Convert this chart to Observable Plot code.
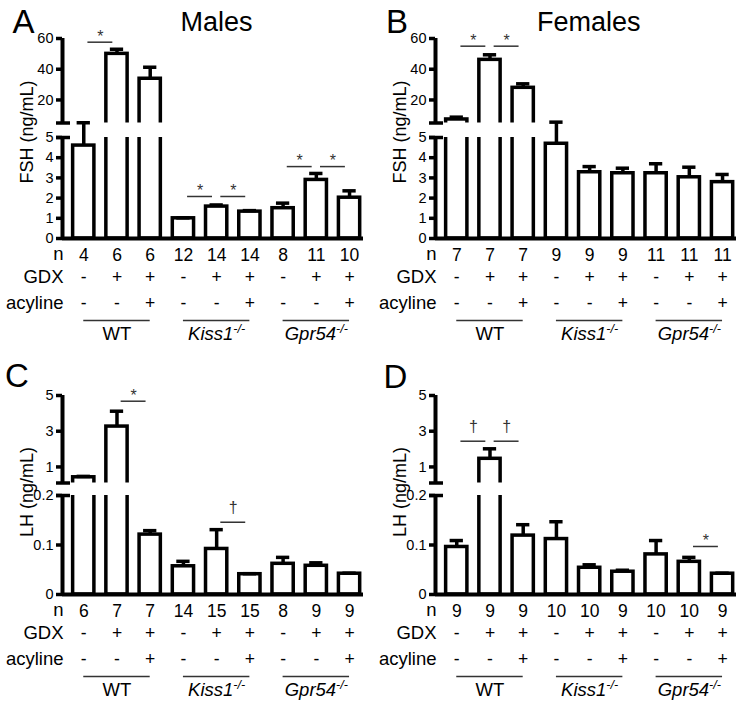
<!DOCTYPE html>
<html>
<head>
<meta charset="utf-8">
<script src="https://cdn.jsdelivr.net/npm/d3@7"></script>
<script src="https://cdn.jsdelivr.net/npm/@observablehq/plot@0.6"></script>
<style>
html,body{margin:0;padding:0;background:#fff;}
#root{position:relative;width:746px;height:707px;overflow:hidden;font-family:"Liberation Sans",Arial,Helvetica,sans-serif;color:#000;}
#root > *{position:absolute;}
.letter{font-size:33px;line-height:33px;white-space:nowrap;}
.title{font-size:27px;line-height:27px;text-align:center;width:200px;white-space:nowrap;}
.ylab{font-size:18px;line-height:20px;height:20px;width:160px;text-align:center;transform:rotate(-90deg);white-space:nowrap;}
</style>
</head>
<body>
<div id="root"></div>
<script>
// ---------- shared categories ----------
const genotype = ["WT","WT","WT","Kiss1-/-","Kiss1-/-","Kiss1-/-","Gpr54-/-","Gpr54-/-","Gpr54-/-"];
const gdx      = ["-","+","+","-","+","+","-","+","+"];
const acyline  = ["-","-","+","-","-","+","-","-","+"];
const rowLabels = ["n","GDX","acyline"];

// ---------- A: FSH, males ----------
const fshMaleMean = [4.6, 50.0, 33.8, 1.0, 1.58, 1.33, 1.5, 2.9, 2.02];
const fshMaleSem  = [1.13, 3.0, 7.5, 0.02, 0.08, 0.05, 0.25, 0.32, 0.34];
const fshMaleN    = [4, 6, 6, 12, 14, 14, 8, 11, 10];
const fshMaleSig  = [
  {a:1, b:2, y:57.6, label:"*"},
  {a:4, b:5, y:2.08, label:"*"}, {a:5, b:6, y:2.08, label:"*"},
  {a:7, b:8, y:3.56, label:"*"}, {a:8, b:9, y:3.56, label:"*"}
];

// ---------- B: FSH, females ----------
const fshFemaleMean = [7.3, 46.1, 27.9, 4.69, 3.28, 3.23, 3.23, 3.03, 2.79];
const fshFemaleSem  = [1.5, 3.3, 2.6, 1.07, 0.28, 0.25, 0.47, 0.5, 0.38];
const fshFemaleN    = [7, 7, 7, 9, 9, 9, 11, 11, 11];
const fshFemaleSig  = [{a:1, b:2, y:55, label:"*"}, {a:2, b:3, y:55, label:"*"}];

// ---------- C: LH, males ----------
const lhMaleMean = [0.42, 3.26, 0.121, 0.057, 0.092, 0.041, 0.062, 0.058, 0.042];
const lhMaleSem  = [0.05, 0.86, 0.008, 0.01, 0.039, 0.001, 0.013, 0.006, 0.001];
const lhMaleN    = [6, 7, 7, 14, 15, 15, 8, 9, 9];
const lhMaleSig  = [{a:2, b:3, y:4.68, label:"*"}, {a:5, b:6, y:0.146, label:"†"}];

// ---------- D: LH, females ----------
const lhFemaleMean = [0.096, 1.455, 0.119, 0.112, 0.054, 0.046, 0.081, 0.066, 0.042];
const lhFemaleSem  = [0.013, 0.56, 0.022, 0.035, 0.006, 0.003, 0.028, 0.009, 0.001];
const lhFemaleN    = [9, 9, 9, 10, 10, 9, 10, 10, 9];
const lhFemaleSig  = [{a:1, b:2, y:2.44, label:"†"}, {a:2, b:3, y:2.44, label:"†"}, {a:8, b:9, y:0.097, label:"*"}];

// ---------- layout / style ----------
const FONT = '"Liberation Sans", Arial, Helvetica, sans-serif';
const X_DOMAIN = [0.36, 9.42];
const BAR_HALF = 0.32, CAP_HALF = 0.2, SIG_HALF = 0.375;
const PANEL_W = 373, M_LEFT = 62, M_RIGHT = 10, M_TOP = 20, M_BOT_LOWER = 112, M_BOT_UPPER = 6;
const BAR_SW = 3.5, AXIS_SW = 4, SIG_COLOR = "#333";
const TICK_FS = 14.5, VAL_FS = 17.5, ROW_FS = 18.5, GROUP_FS = 18.5;

const root = document.getElementById("root");

function svgStyle() {
  return {background: "transparent", overflow: "visible", fontFamily: FONT, fontSize: TICK_FS + "px", color: "black"};
}

function errorMarks(rs) {
  return [
    Plot.ruleX(rs, {x: "pos", y1: "v", y2: d => d.v + d.e, strokeWidth: BAR_SW}),
    Plot.ruleY(rs, {x1: d => d.pos - CAP_HALF, x2: d => d.pos + CAP_HALF, y: d => d.v + d.e, strokeWidth: BAR_SW})
  ];
}

function sigMarks(ss) {
  return [
    Plot.ruleY(ss, {x1: d => (d.a + d.b) / 2 - SIG_HALF, x2: d => (d.a + d.b) / 2 + SIG_HALF, y: "y", stroke: SIG_COLOR, strokeWidth: 1.5}),
    Plot.text(ss.filter(d => d.label === "*"), {x: d => (d.a + d.b) / 2, y: "y", text: "label", dy: -5.8, fontSize: 16, fill: SIG_COLOR}),
    Plot.text(ss.filter(d => d.label !== "*"), {x: d => (d.a + d.b) / 2, y: "y", text: "label", dy: -14.3, fontSize: 16, fill: SIG_COLOR})
  ];
}

function place(el, left, top) {
  el.style.position = "absolute";
  el.style.left = left + "px";
  el.style.top = top + "px";
  root.appendChild(el);
}

function addDiv(cls, text, left, top) {
  const d = document.createElement("div");
  d.className = cls;
  d.textContent = text;
  place(d, left, top);
  return d;
}

function tableText(data, opts) {
  return Plot.text(data, {frameAnchor: "bottom", lineAnchor: "middle", ...opts});
}

function drawPanel(cfg, mean, sem, n, sig) {
  const rows = mean.map((v, i) => ({pos: i + 1, v, e: sem[i], n: n[i], gdx: gdx[i], acy: acyline[i], geno: genotype[i]}));
  const groups = d3.groups(rows, d => d.geno).map(([name, rs]) => ({
    name, first: d3.min(rs, d => d.pos), last: d3.max(rs, d => d.pos), mid: d3.mean(rs, d => d.pos)
  }));
  const split = cfg.lower.domain[1];
  const U = cfg.upper, L = cfg.lower;

  const upper = Plot.plot({
    width: PANEL_W, height: M_TOP + (U.bottom - U.top) + M_BOT_UPPER,
    marginTop: M_TOP, marginBottom: M_BOT_UPPER, marginLeft: M_LEFT, marginRight: M_RIGHT,
    x: {type: "linear", domain: X_DOMAIN, axis: null},
    y: {type: "linear", domain: U.domain, axis: null},
    style: svgStyle(),
    marks: [
      Plot.rect(rows.filter(d => d.v > split), {
        x1: d => d.pos - BAR_HALF, x2: d => d.pos + BAR_HALF,
        y1: () => -U.domain[1], y2: "v",
        fill: "white", stroke: "black", strokeWidth: BAR_SW, clip: true
      }),
      ...errorMarks(rows.filter(d => d.v > split)),
      ...sigMarks(sig.filter(d => d.y > split)),
      Plot.ruleX([X_DOMAIN[0]], {y1: () => U.domain[0], y2: () => U.domain[1], strokeWidth: AXIS_SW}),
      Plot.ruleY([U.domain[0]], {x1: () => X_DOMAIN[0], x2: () => X_DOMAIN[0], insetLeft: -6, insetRight: -8, strokeWidth: BAR_SW}),
      Plot.axisY({ticks: U.ticks, tickSize: 6, tickPadding: 3, strokeWidth: BAR_SW, tickFormat: d => String(d), label: null, fontSize: TICK_FS})
    ]
  });
  place(upper, cfg.left, U.top - M_TOP);

  const lower = Plot.plot({
    width: PANEL_W, height: M_TOP + (L.bottom - L.top) + M_BOT_LOWER,
    marginTop: M_TOP, marginBottom: M_BOT_LOWER, marginLeft: M_LEFT, marginRight: M_RIGHT,
    x: {type: "linear", domain: X_DOMAIN, axis: null},
    y: {type: "linear", domain: L.domain, axis: null},
    style: svgStyle(),
    marks: [
      Plot.rect(rows, {
        x1: d => d.pos - BAR_HALF, x2: d => d.pos + BAR_HALF,
        y1: () => L.domain[0], y2: "v",
        fill: "white", stroke: "black", strokeWidth: BAR_SW, clip: true
      }),
      ...errorMarks(rows.filter(d => d.v <= split)),
      ...sigMarks(sig.filter(d => d.y <= split)),
      Plot.ruleX([X_DOMAIN[0]], {y1: () => L.domain[0], y2: () => L.domain[1], strokeWidth: AXIS_SW}),
      Plot.ruleY([L.domain[0]], {strokeWidth: AXIS_SW}),
      Plot.ruleY([L.domain[1]], {x1: () => X_DOMAIN[0], x2: () => X_DOMAIN[0], insetLeft: -6, insetRight: -8, strokeWidth: BAR_SW}),
      Plot.axisY({ticks: L.ticks, tickSize: 6, tickPadding: 3, strokeWidth: BAR_SW, tickFormat: d => String(d), label: null, fontSize: TICK_FS}),
      // table rows
      tableText(rows, {x: "pos", text: d => String(d.n), dy: 16.5, fontSize: VAL_FS}),
      tableText(rows, {x: "pos", text: "gdx", dy: 39, fontSize: VAL_FS}),
      tableText(rows, {x: "pos", text: "acy", dy: 65, fontSize: VAL_FS}),
      tableText([rowLabels[0]], {x: () => X_DOMAIN[0], text: d => d, dy: 15.5, dx: 1, textAnchor: "end", fontSize: ROW_FS}),
      tableText([rowLabels[1]], {x: () => X_DOMAIN[0], text: d => d, dy: 39, dx: 1, textAnchor: "end", fontSize: ROW_FS}),
      tableText([rowLabels[2]], {x: () => X_DOMAIN[0], text: d => d, dy: 65, dx: 1, textAnchor: "end", fontSize: ROW_FS}),
      Plot.ruleY(groups, {x1: "first", x2: "last", y: () => L.domain[0], dy: 82, stroke: SIG_COLOR, strokeWidth: 1.5}),
      tableText(groups.filter(g => !g.name.endsWith("-/-")), {x: "mid", text: "name", dy: 96, fontSize: GROUP_FS}),
      tableText(groups.filter(g => g.name.endsWith("-/-")), {x: "mid", text: "name", dy: 96, fontSize: GROUP_FS, fontStyle: "italic"})
    ]
  });
  // superscript the "-/-" of the knockout genotypes
  lower.querySelectorAll("text").forEach(t => {
    const s = t.textContent;
    if (s.endsWith("-/-") && s.length > 3) {
      t.textContent = "";
      const ns = "http://www.w3.org/2000/svg";
      const base = document.createElementNS(ns, "tspan");
      base.textContent = s.slice(0, -3);
      const sup = document.createElementNS(ns, "tspan");
      sup.textContent = "-/-";
      sup.setAttribute("font-size", "12.5");
      sup.setAttribute("dy", "-7");
      t.appendChild(base);
      t.appendChild(sup);
    }
  });
  place(lower, cfg.left, L.top - M_TOP);
}

const topRow = {upper: {top: 38, bottom: 122.5, domain: [5, 60], ticks: [20, 40, 60]},
                lower: {top: 137, bottom: 238, domain: [0, 5], ticks: [0, 1, 2, 3, 4, 5]}};
const botRow = {upper: {top: 395, bottom: 482.5, domain: [0.1, 5], ticks: [1, 3, 5]},
                lower: {top: 495, bottom: 594, domain: [0, 0.2], ticks: [0, 0.1, 0.2]}};

drawPanel({left: 0, ...topRow}, fshMaleMean, fshMaleSem, fshMaleN, fshMaleSig);
drawPanel({left: 373, ...topRow}, fshFemaleMean, fshFemaleSem, fshFemaleN, fshFemaleSig);
drawPanel({left: 0, ...botRow}, lhMaleMean, lhMaleSem, lhMaleN, lhMaleSig);
drawPanel({left: 373, ...botRow}, lhFemaleMean, lhFemaleSem, lhFemaleN, lhFemaleSig);

// panel letters, titles, y labels
addDiv("letter", "A", 12.5, 5.4);
addDiv("letter", "B", 386, 5.4);
addDiv("letter", "C", 5, 359);
addDiv("letter", "D", 383.5, 360);
addDiv("title", "Males", 116.5, 8.5);
addDiv("title", "Females", 488.8, 8.5);
addDiv("ylab", "FSH (ng/mL)", 27 - 80, 131.5 - 10);
addDiv("ylab", "FSH (ng/mL)", 400 - 80, 131.5 - 10);
addDiv("ylab", "LH (ng/mL)", 27 - 80, 491.7 - 10);
addDiv("ylab", "LH (ng/mL)", 400 - 80, 491.7 - 10);
</script>
</body>
</html>
